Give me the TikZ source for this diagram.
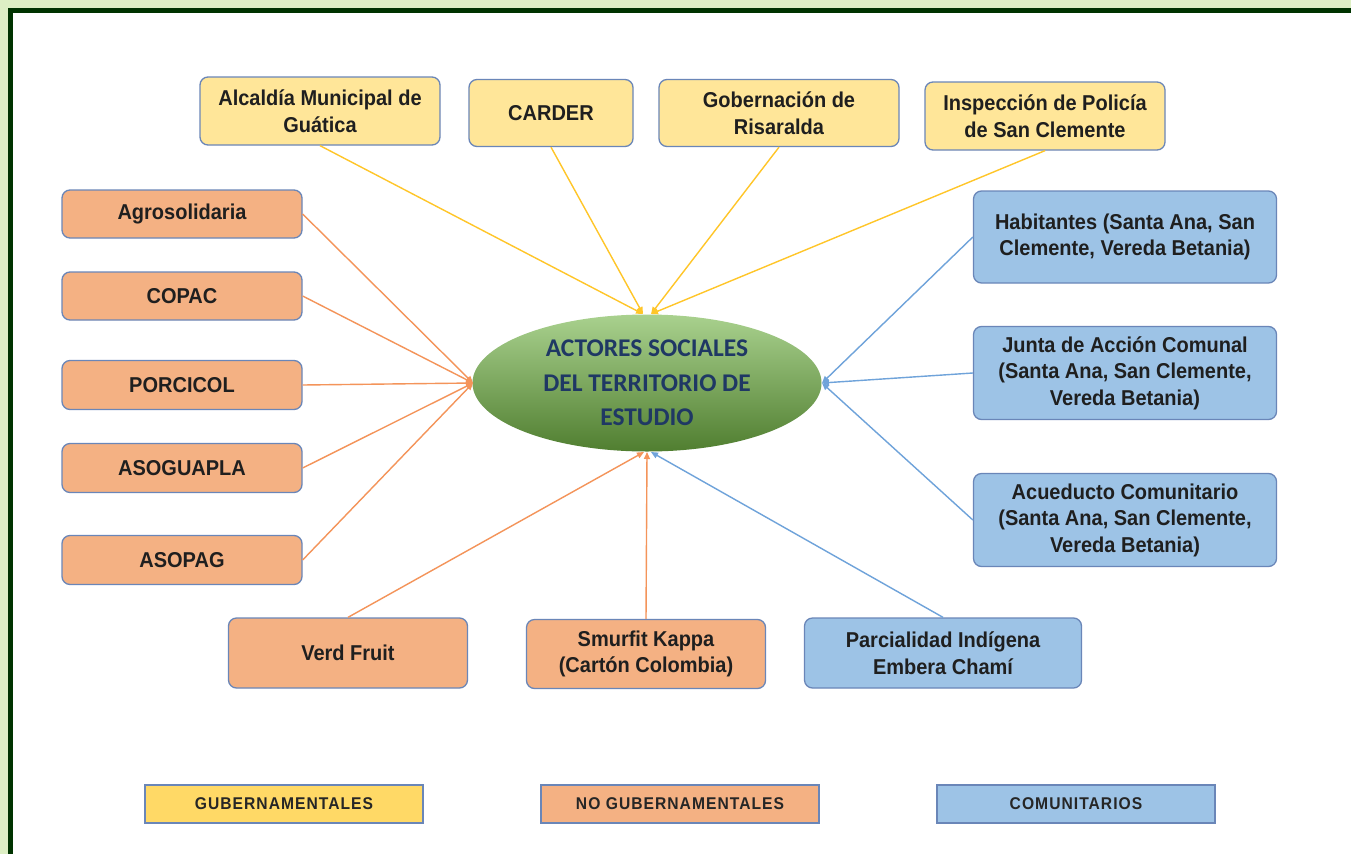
\documentclass[tikz,border=0pt]{standalone}
\usepackage{fontspec}
\newfontfamily\narrowfont{Liberation Sans}[FakeStretch=0.93]
\newfontfamily\legfont{Liberation Sans}[FakeStretch=0.92,LetterSpace=6]
\newfontfamily\calfont{Carlito}
\usetikzlibrary{shapes.geometric,arrows.meta}
\definecolor{bgg}{HTML}{DDEFC4}
\definecolor{frameg}{HTML}{003300}
\definecolor{yfill}{HTML}{FFE699}
\definecolor{ofill}{HTML}{F4B183}
\definecolor{bfill}{HTML}{9DC3E6}
\definecolor{lyfill}{HTML}{FFD966}
\definecolor{bordc}{HTML}{6A86B8}
\definecolor{yline}{HTML}{FFC629}
\definecolor{oline}{HTML}{F4945A}
\definecolor{bline}{HTML}{6FA3DA}
\definecolor{txtblue}{HTML}{1F3864}
\definecolor{eltop}{HTML}{A9D18E}
\definecolor{elmid}{HTML}{72AE48}
\definecolor{elbot}{HTML}{507E30}
\begin{document}
\begin{tikzpicture}[x=1pt,y=-1pt,
  box/.style={draw=bordc, line width=1.3pt, rounded corners=8pt, align=center, inner sep=0pt,
    font=\narrowfont\bfseries\fontsize{21.5}{26.5}\selectfont, text=black!88},
  ybox/.style={box, fill=yfill},
  obox/.style={box, fill=ofill},
  bbox/.style={box, fill=bfill},
  legbox/.style={draw=bordc, line width=1.2pt, inner sep=0pt, minimum width=278pt, minimum height=38pt,
    font=\legfont\bfseries\fontsize{17}{19}\selectfont, text=black!85},
  conn/.style={line width=1.4pt, -{Triangle[length=7pt,width=6pt]}},
  yconn/.style={conn, draw=yline, fill=yline},
  oconn/.style={conn, draw=oline, fill=oline},
  bconn/.style={conn, draw=bline, fill=bline}]
\useasboundingbox (0,0) rectangle (1351,854);
\fill[bgg] (0,0) rectangle (1351,854);
\fill[frameg] (8,8) rectangle (1351,854);
\fill[white] (13,13) rectangle (1351,854);

% central ellipse
\node[ellipse, minimum width=349pt, minimum height=137pt, inner sep=0pt,
  top color=eltop, middle color=elmid, bottom color=elbot,
  align=center, text=txtblue,
  font=\calfont\bfseries\fontsize{25.5}{34.5}\selectfont] (c) at (647,383)
  {ACTORES SOCIALES\\DEL TERRITORIO DE\\ESTUDIO};

% top row (governmental)
\node[ybox, minimum width=240pt, minimum height=68pt] (alc) at (320,111) {Alcaldía Municipal de\\Guática};
\node[ybox, minimum width=164pt, minimum height=67pt] (carder) at (551,113) {CARDER};
\node[ybox, minimum width=240pt, minimum height=67pt] (gob) at (779,113) {Gobernación de\\Risaralda};
\node[ybox, minimum width=240pt, minimum height=68pt] (insp) at (1045,116) {Inspección de Policía\\de San Clemente};

% left column
\node[obox, minimum width=240pt, minimum height=48pt] (agro) at (182,214) {Agrosolidaria};
\node[obox, minimum width=240pt, minimum height=48pt] (copac) at (182,296) {COPAC};
\node[obox, minimum width=240pt, minimum height=49pt] (porc) at (182,385) {PORCICOL};
\node[obox, minimum width=240pt, minimum height=49pt] (asog) at (182,468) {ASOGUAPLA};
\node[obox, minimum width=240pt, minimum height=49pt] (asop) at (182,560) {ASOPAG};

% bottom row
\node[obox, minimum width=239pt, minimum height=70pt] (verd) at (348,653) {Verd Fruit};
\node[obox, minimum width=239pt, minimum height=69pt] (smur) at (646,654) {Smurfit Kappa\\(Cartón Colombia)};
\node[bbox, minimum width=277pt, minimum height=70pt] (parc) at (943,653) {Parcialidad Indígena\\Embera Chamí};

% right column
\node[bbox, minimum width=303pt, minimum height=92pt] (hab) at (1125,237) {Habitantes (Santa Ana, San\\Clemente, Vereda Betania)};
\node[bbox, minimum width=303pt, minimum height=93pt] (junta) at (1125,373) {Junta de Acción Comunal\\(Santa Ana, San Clemente,\\Vereda Betania)};
\node[bbox, minimum width=303pt, minimum height=93pt] (acue) at (1125,520) {Acueducto Comunitario\\(Santa Ana, San Clemente,\\Vereda Betania)};

% arrival points on the ellipse
\coordinate (ctl) at (643,314);
\coordinate (ctr) at (651,314);
\coordinate (cl) at (473,383);
\coordinate (cr) at (822,383);
\coordinate (cbl) at (644,452);
\coordinate (cbm) at (647,452);
\coordinate (cbr) at (651,452);

% connectors
\draw[yconn] (alc.south) -- (ctl);
\draw[yconn] (carder.south) -- (ctl);
\draw[yconn] (gob.south) -- (ctr);
\draw[yconn] (insp.south) -- (ctr);

\draw[oconn] (agro.east) -- (cl);
\draw[oconn] (copac.east) -- (cl);
\draw[oconn] (porc.east) -- (cl);
\draw[oconn] (asog.east) -- (cl);
\draw[oconn] (asop.east) -- (cl);

\draw[oconn] (verd.north) -- (cbl);
\draw[oconn] (smur.north) -- (cbm);
\draw[bconn] (parc.north) -- (cbr);

\draw[bconn] (hab.west) -- (cr);
\draw[bconn] (junta.west) -- (cr);
\draw[bconn] (acue.west) -- (cr);

% legend
\node[legbox, fill=lyfill] (lg) at (284,804) {GUBERNAMENTALES};
\node[legbox, fill=ofill] (lng) at (680,804) {NO GUBERNAMENTALES};
\node[legbox, fill=bfill] (lc) at (1076,804) {COMUNITARIOS};
\end{tikzpicture}
\end{document}
